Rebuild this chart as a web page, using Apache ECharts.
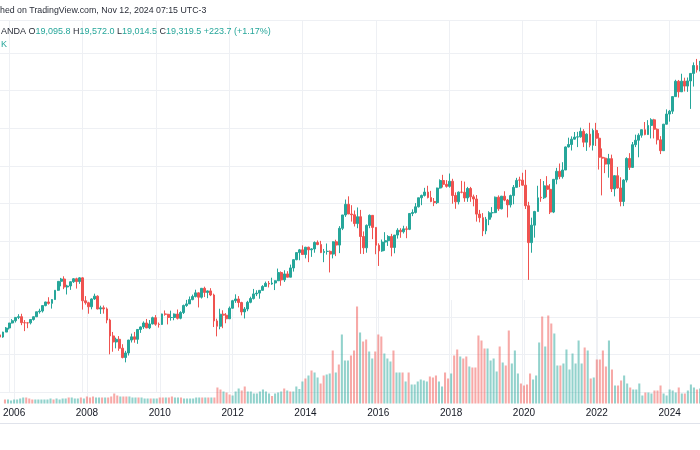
<!DOCTYPE html>
<html>
<head>
<meta charset="utf-8">
<script src="https://cdn.jsdelivr.net/npm/echarts@6/dist/echarts.min.js"></script>
<style>
html,body{margin:0;padding:0;background:#fff;}
#chart{width:700px;height:450px;}
</style>
</head>
<body>
<div id="chart"></div>
<script>
// Monthly candles Oct 2005 .. Nov 2024 (OANDA, DE30EUR style)
const startYear = 2005, startMonth = 10, monthCount = 230;
const months = [];
for (let k = 0; k < monthCount; k++) {
  const mm = startMonth - 1 + k;
  const y = startYear + Math.floor(mm / 12);
  const m = (mm % 12) + 1;
  months.push(y + '-' + (m < 10 ? '0' + m : '' + m));
}

const opens = [
5044,4929,5193,
5408,5674,5796,5970,6009,5692,5683,5682,5860,6004,6269,6309,
6597,6789,6715,6917,7409,7883,8007,7584,7638,7862,8019,7871,
8067,6852,6748,6535,6949,7097,6418,6479,6422,5831,4988,4669,
4810,4338,3843,4085,4770,4941,4809,5332,5465,5675,5415,5625,
5957,5608,5598,6154,6136,5965,5966,6148,5925,6229,6601,6688,
6914,7077,7272,7041,7514,7294,7376,7159,5785,5502,6141,6089,
5898,6458,6856,6947,6761,6264,6416,6772,6970,7216,7260,7405,
7612,7776,7742,7795,7914,8349,7959,8276,8103,8594,9033,9406,
9552,9306,9692,9556,9603,9943,9833,9407,9470,9474,9327,9980,
9806,10694,11402,11966,11454,11414,10945,11309,10259,9660,10850,11382,
10743,9798,9495,9966,10039,10263,9680,10337,10593,10511,10665,10640,
11481,11535,11834,12313,12438,12615,12325,12118,12056,12829,13230,13024,
12918,13189,12436,12097,12612,12605,12306,12806,12364,12247,11447,11257,
10559,11173,11516,11526,12344,11727,12399,12189,11939,12428,12867,13260,
13249,12981,11890,9936,10862,11587,12340,12313,12945,12761,11556,13291,
13719,13433,13786,15008,15136,15421,15531,15544,15835,15261,15688,15100,
15885,15471,14461,14415,14098,14388,12784,13484,12835,12114,13253,14397,
13924,15128,15365,15629,15922,15664,16148,16447,15947,15387,14810,16215,
16752,16904,17678,18492,17932,18498,18235,18509,18907,19325,19095.8
];
const highs = [
5138,5211,5459,
5677,5880,5985,6140,6163,5830,5690,5880,6020,6270,6430,6611,
6800,7040,6940,7415,7885,8065,8151,7700,7880,8050,8076,8100,
8100,7100,6800,6980,7230,7140,6590,6600,6500,5900,5200,4900,
4980,4550,4200,4780,5110,5200,5340,5490,5760,5888,5830,6010,
6095,5700,6170,6340,6160,6330,6180,6390,6300,6650,6900,7080,
7180,7440,7300,7530,7600,7400,7520,7230,5900,6430,6350,6200,
6550,6900,7195,7100,6800,6520,6850,7070,7480,7410,7420,7680,
7870,7900,8075,7940,8560,8410,8470,8420,8770,9050,9420,9600,
9790,9710,9720,9640,10000,10050,10030,9600,9890,9520,10000,10090,
10810,11400,12220,12390,11920,11640,11800,11670,10530,10900,11430,11390,
10750,9900,10100,10490,10330,10400,10340,10700,10700,10830,10800,11480,
11700,12030,12310,12480,12840,12950,12680,12300,12850,13290,13530,13250,
13600,13320,12600,12650,13210,13170,12890,12890,12480,12460,11670,11500,
11300,11600,11820,12380,12440,12410,12660,12250,12480,12990,13370,13430,
13640,13795,12100,11260,11620,12950,13310,13200,13460,13040,13310,13900,
14130,14200,15030,15500,15570,15800,15810,16030,15950,15730,16290,15980,
16285,15740,14930,14460,14640,14600,13500,13950,13400,13300,14460,14680,
15270,15660,15730,15920,16330,16430,16530,16500,15990,15580,16230,17000,
16970,17680,18570,18560,18890,18680,18690,18650,19490,19675,19572.0
];
const lows = [
4800,4890,5190,
5330,5650,5700,5880,5560,5243,5400,5600,5800,5990,6170,6230,
6560,6650,6437,6900,7380,7620,7470,7186,7430,7800,7500,7750,
6384,6650,6167,6400,6900,6400,6155,6170,5660,4014,4150,4330,
4200,3800,3588,3950,4640,4630,4570,5150,5360,5400,5350,5600,
5530,5430,5570,6060,5600,5800,5820,5860,5870,6150,6530,6690,
6880,7030,6500,6970,7050,6990,7100,5460,4966,5340,5400,5660,
5900,6440,6740,6500,6080,5915,6300,6720,6920,7100,6960,7400,
7600,7560,7700,7420,7900,7650,7850,8100,8100,8400,9000,9000,
9280,9100,8900,9180,9400,9800,9380,8900,9300,8355,9100,9220,
9380,10600,11300,11450,11050,10790,10700,9340,9330,9400,10700,10120,
9320,8700,9450,9500,9760,9210,9370,10150,10190,10420,10170,10600,
11340,11480,11800,11920,12380,12280,12080,11870,11980,12800,12860,12850,
12850,12000,11730,11960,12550,12100,12100,12100,11860,11050,11010,10280,
10380,10860,11270,11500,11620,11700,12130,11270,11800,11970,12860,12880,
12950,11720,7960,9400,10200,11590,12100,12250,12340,11450,11500,13030,
13300,13330,13800,14980,14820,15400,15000,15500,15000,14800,14990,14820,
15060,13810,12440,13620,13380,12620,12390,12800,11860,11870,13130,13790,
13900,15000,14460,15500,15630,15650,15460,15460,15140,14630,14800,16200,
16350,16760,17660,17630,17920,17950,17930,17025,18210,18950,19014.5
];
const closes = [
4929,5193,5408,
5674,5796,5970,6009,5692,5683,5682,5860,6004,6269,6309,6597,
6789,6715,6917,7409,7883,8007,7584,7638,7862,8019,7871,8067,
6852,6748,6535,6949,7097,6418,6479,6422,5831,4988,4669,4810,
4338,3843,4085,4770,4941,4809,5332,5465,5675,5415,5625,5957,
5608,5598,6154,6136,5965,5966,6148,5925,6229,6601,6688,6914,
7077,7272,7041,7514,7294,7376,7159,5785,5502,6141,6089,5898,
6458,6856,6947,6761,6264,6416,6772,6970,7216,7260,7405,7612,
7776,7742,7795,7914,8349,7959,8276,8103,8594,9033,9406,9552,
9306,9692,9556,9603,9943,9833,9407,9470,9474,9327,9980,9806,
10694,11402,11966,11454,11414,10945,11309,10259,9660,10850,11382,10743,
9798,9495,9966,10039,10263,9680,10337,10593,10511,10665,10640,11481,
11535,11834,12313,12438,12615,12325,12118,12056,12829,13230,13024,12918,
13189,12436,12097,12612,12605,12306,12806,12364,12247,11447,11257,10559,
11173,11516,11526,12344,11727,12399,12189,11939,12428,12867,13236,13249,
12981,11890,9936,10862,11587,12311,12313,12945,12761,11556,13291,13719,
13433,13786,15008,15136,15421,15531,15544,15835,15261,15688,15100,15885,
15471,14461,14415,14098,14388,12784,13484,12835,12114,13253,14397,13924,
15128,15365,15629,15922,15664,16148,16447,15947,15387,14810,16215,16752,
16904,17678,18492,17932,18498,18235,18509,18907,19325,19095.8,19319.5
];
// Volume (K)
const volumes = [
40,40,30,
40,40,50,60,60,50,40,40,40,40,40,40,
50,40,50,40,50,50,60,60,50,50,60,50,
70,60,70,60,60,60,60,60,70,100,80,70,
70,70,70,60,60,60,60,50,50,50,50,50,
60,60,60,60,70,60,60,60,50,50,50,50,
60,60,60,60,60,60,60,160,140,120,110,90,
80,120,150,130,170,120,120,100,100,120,140,120,
100,75,100,110,120,150,130,120,120,170,145,220,
250,280,330,310,260,200,280,290,300,530,310,390,
690,430,430,480,530,970,710,620,640,520,450,520,
690,670,500,450,420,530,310,310,310,220,310,190,
190,220,240,230,220,270,260,280,220,170,310,250,
300,480,540,470,450,470,370,360,360,680,630,550,
550,430,450,320,570,410,380,730,400,530,300,200,
180,190,300,240,280,610,870,570,880,800,700,380,
380,400,540,340,500,400,630,400,560,530,250,260,
440,440,530,370,630,340,180,180,230,280,200,160,
140,140,200,80,110,110,100,130,130,180,100,80,
140,130,110,160,100,100,130,190,160,140,150
];
const yearTickMonth = '01';

const UP = '#26a69a', DOWN = '#ef5350';
const UP_VOL = 'rgba(38,166,154,0.5)', DOWN_VOL = 'rgba(239,83,80,0.5)';

const candleData = months.map((m, i) => [opens[i], closes[i], lows[i], highs[i]]);
const volData = months.map((m, i) => ({
  value: volumes[i],
  itemStyle: { color: closes[i] >= opens[i] ? UP_VOL : DOWN_VOL }
}));

const isYearTick = (idx, val) => {
  const v = typeof val === 'string' ? val : months[idx];
  return v.slice(5) === yearTickMonth && (+v.slice(0, 4)) % 2 === 0;
};

const FONT = '"Liberation Sans", Arial, sans-serif';
const GRID_COLOR = '#eef0f4';

const chart = echarts.init(document.getElementById('chart'), null, { renderer: 'canvas' });
chart.setOption({
  animation: false,
  backgroundColor: '#ffffff',
  grid: [
    { left: 0, width: 703.5, top: 20, height: 372.3 },
    { left: 0, width: 703.5, top: 300, height: 103.5 }
  ],
  xAxis: [
    {
      type: 'category', gridIndex: 0, data: months, boundaryGap: false,
      axisLine: { show: false }, axisTick: { show: false }, axisLabel: { show: false },
      splitLine: { show: true, interval: isYearTick, lineStyle: { color: GRID_COLOR, width: 1 } }
    },
    {
      type: 'category', gridIndex: 1, data: months, boundaryGap: false,
      axisLine: { show: false }, axisTick: { show: false },
      axisLabel: {
        show: true, interval: isYearTick, hideOverlap: false,
        formatter: v => v.slice(0, 4),
        color: '#131722', fontSize: 10, fontFamily: FONT, margin: 5
      },
      splitLine: { show: true, interval: isYearTick, lineStyle: { color: GRID_COLOR, width: 1 } }
    }
  ],
  yAxis: [
    {
      type: 'value', gridIndex: 0, min: 2000, max: 21739, interval: 2000, scale: false,
      axisLine: { show: false }, axisTick: { show: false }, axisLabel: { show: false },
      splitLine: { show: true, lineStyle: { color: GRID_COLOR, width: 1 } }
    },
    {
      type: 'value', gridIndex: 1, min: 0, max: 1035,
      axisLine: { show: false }, axisTick: { show: false }, axisLabel: { show: false },
      splitLine: { show: false }
    }
  ],
  series: [
    {
      type: 'bar', xAxisIndex: 1, yAxisIndex: 1, data: volData,
      barWidth: '68%', z: 1, silent: true
    },
    {
      type: 'candlestick', xAxisIndex: 0, yAxisIndex: 0, data: candleData,
      barWidth: '78%', z: 5,
      itemStyle: { color: UP, color0: DOWN, borderColor: UP, borderColor0: DOWN, borderWidth: 1 }
    }
  ],
  graphic: [
    {
      type: 'line', z: 0,
      shape: { x1: 0, y1: 423.5, x2: 700, y2: 423.5 },
      style: { stroke: '#e0e3eb', lineWidth: 1 }
    },
    {
      type: 'text', left: 0, top: 6.5, z: 10,
      style: { text: 'hed on TradingView.com, Nov 12, 2024 07:15 UTC-3', font: '8.8px ' + FONT, fill: '#2a2e39' }
    },
    {
      type: 'text', left: 1, top: 27.5, z: 10,
      style: {
        text: '{d|ANDA} {d|O}{v|19,095.8} {d|H}{v|19,572.0} {d|L}{v|19,014.5} {d|C}{v|19,319.5} {v|+223.7 (+1.17%)}',
        font: '9px ' + FONT,
        rich: {
          d: { fill: '#2a2e39', font: '9px ' + FONT },
          v: { fill: UP, font: '9px ' + FONT }
        }
      }
    },
    {
      type: 'text', left: 1, top: 40, z: 10,
      style: { text: 'K', font: '9px ' + FONT, fill: UP }
    }
  ]
});
</script>
</body>
</html>
